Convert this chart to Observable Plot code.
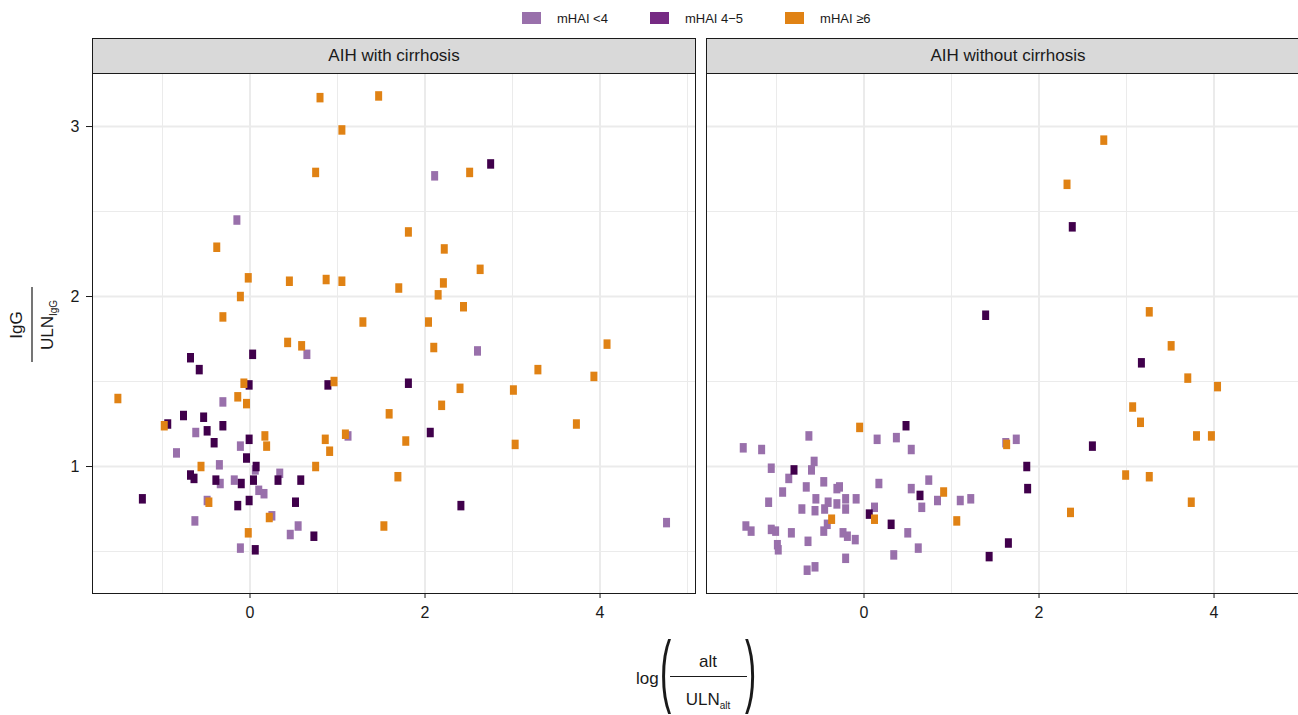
<!DOCTYPE html>
<html>
<head>
<meta charset="utf-8">
<script src="https://cdn.jsdelivr.net/npm/d3@7"></script>
<script src="https://cdn.jsdelivr.net/npm/@observablehq/plot@0.6"></script>
<style>
html, body { margin: 0; padding: 0; background: #fff; overflow: hidden; }
#wrap { position: relative; width: 1298px; height: 715px; overflow: hidden; font-family: "Liberation Sans", Arial, sans-serif; }
#legend { position: absolute; top: 0; left: 522px; height: 36px; display: flex; align-items: center; font-size: 13px; color: #1a1a1a; }
#legend .item { display: flex; align-items: center; margin-right: 42px; }
#legend .sw { width: 19px; height: 12px; margin-right: 16px; }
#chart { position: absolute; top: 36px; left: 0; width: 1309px; }
#chart svg { max-width: none !important; }
#titles { position: absolute; top: 0; left: 0; pointer-events: none; }
</style>
</head>
<body>
<div id="wrap">
  <div id="legend"></div>
  <div id="chart"></div>
  <svg id="titles" width="1298" height="715" font-family="Liberation Sans, Arial, sans-serif" fill="#1a1a1a"></svg>
</div>
<script>
// ---------- data ----------
const panels = ["AIH with cirrhosis", "AIH without cirrhosis"];
const groups = ["mHAI <4", "mHAI 4\u22125", "mHAI \u22656"];
const pointColors = ["#9970ab", "#40004b", "#e08214"];
const legendColors = ["#9970ab", "#762a83", "#e08214"];
const xTicks = [0, 2, 4];
const yTicks = [1, 2, 3];
const xMinor = [-1, 1, 3, 5];
const yMinor = [0.5, 1.5, 2.5];

// AIH with cirrhosis
const cirrLow = [[-0.15,2.45],[-0.31,1.38],[0.65,1.66],[-0.62,1.20],[-0.11,1.12],[1.12,1.18],[-0.84,1.08],[0.06,0.98],[-0.35,1.01],[0.34,0.96],[-0.34,0.90],[-0.18,0.92],[0.10,0.86],[0.16,0.84],[-0.49,0.80],[0.25,0.71],[-0.63,0.68],[0.55,0.65],[0.46,0.60],[-0.11,0.52],[2.11,2.71],[2.60,1.68],[4.76,0.67]];
const cirrMid = [[-0.68,1.64],[0.03,1.66],[-0.58,1.57],[-0.01,1.48],[0.89,1.48],[-0.76,1.30],[-0.94,1.25],[-0.53,1.29],[-0.49,1.21],[-0.31,1.24],[-0.41,1.14],[-0.01,1.16],[-0.04,1.05],[0.07,1.00],[-0.68,0.95],[-0.64,0.93],[-0.39,0.92],[-0.10,0.90],[0.04,0.92],[0.32,0.92],[0.58,0.92],[-1.23,0.81],[0.52,0.79],[-0.01,0.80],[-0.14,0.77],[0.73,0.59],[0.06,0.51],[2.75,2.78],[1.81,1.49],[2.06,1.20],[2.41,0.77]];
const cirrHigh = [[0.80,3.17],[1.47,3.18],[1.05,2.98],[0.75,2.73],[-0.38,2.29],[-0.02,2.11],[0.45,2.09],[0.87,2.10],[1.05,2.09],[1.70,2.05],[-0.11,2.00],[-0.31,1.88],[1.29,1.85],[0.43,1.73],[0.59,1.71],[-0.07,1.49],[0.96,1.50],[-1.51,1.40],[-0.14,1.41],[-0.04,1.37],[1.59,1.31],[-0.98,1.24],[0.17,1.18],[0.19,1.12],[0.86,1.16],[1.09,1.19],[0.91,1.09],[-0.56,1.00],[0.75,1.00],[1.69,0.94],[-0.47,0.79],[0.22,0.70],[-0.02,0.61],[1.53,0.65],[2.51,2.73],[1.81,2.38],[2.22,2.28],[2.63,2.16],[2.21,2.08],[2.15,2.01],[2.44,1.94],[2.04,1.85],[2.10,1.70],[4.08,1.72],[3.29,1.57],[3.93,1.53],[2.40,1.46],[3.01,1.45],[2.19,1.36],[3.73,1.25],[1.78,1.15],[3.03,1.13]];

// AIH without cirrhosis
const noCirrLow = [[-0.63,1.18],[-1.38,1.11],[-1.17,1.10],[0.15,1.16],[0.37,1.17],[0.54,1.10],[-1.06,0.99],[-0.57,1.03],[-0.60,0.98],[-0.86,0.93],[-0.46,0.91],[-0.66,0.88],[-0.31,0.87],[-0.28,0.88],[0.17,0.90],[0.74,0.92],[0.54,0.87],[1.10,0.80],[1.22,0.81],[0.84,0.80],[-0.93,0.85],[-0.55,0.81],[-0.41,0.79],[-0.31,0.78],[-0.21,0.81],[-0.09,0.81],[-1.09,0.79],[-0.71,0.75],[-0.56,0.74],[-0.45,0.75],[-0.21,0.75],[0.12,0.76],[0.66,0.76],[-0.42,0.66],[-1.35,0.65],[-1.29,0.62],[-1.06,0.63],[-1.01,0.62],[-0.83,0.61],[-0.46,0.62],[-0.24,0.61],[-0.19,0.59],[-0.10,0.57],[0.50,0.61],[-0.64,0.56],[-0.99,0.54],[-0.98,0.51],[0.62,0.52],[0.34,0.48],[-0.21,0.46],[-0.65,0.39],[-0.56,0.41],[1.62,1.14],[1.74,1.16]];
const noCirrMid = [[0.48,1.24],[-0.80,0.98],[0.64,0.83],[0.06,0.72],[0.31,0.66],[1.43,0.47],[1.39,1.89],[2.38,2.41],[3.17,1.61],[2.61,1.12],[1.86,1.00],[1.87,0.87],[1.65,0.55]];
const noCirrHigh = [[-0.05,1.23],[0.91,0.85],[0.12,0.69],[-0.37,0.69],[1.06,0.68],[2.74,2.92],[2.32,2.66],[3.26,1.91],[3.51,1.71],[3.70,1.52],[4.04,1.47],[3.07,1.35],[3.16,1.26],[3.80,1.18],[3.97,1.18],[1.63,1.13],[2.99,0.95],[3.26,0.94],[3.74,0.79],[2.36,0.73]];

// ---------- build table ----------
const series = [
  [panels[0], groups[0], cirrLow], [panels[0], groups[1], cirrMid], [panels[0], groups[2], cirrHigh],
  [panels[1], groups[0], noCirrLow], [panels[1], groups[1], noCirrMid], [panels[1], groups[2], noCirrHigh]
];
const data = series.flatMap(([panel, group, pts]) => pts.map(([x, y]) => ({panel, group, x, y})));

// rectangular (taller than wide) marker
const tallSquare = { draw(ctx) { ctx.rect(-3.5, -4.75, 7, 9.5); } };

const PANEL_H = 520;
const chart = Plot.plot({
  width: 1309,
  height: 600,
  marginTop: 37,
  marginBottom: 43,
  marginLeft: 92,
  marginRight: 0,
  style: { fontFamily: "Liberation Sans, Arial, sans-serif", background: "transparent", color: "#1a1a1a", maxWidth: "none" },
  x: { domain: [-1.8, 5.091], axis: null },
  y: { domain: [0.253, 3.312], axis: null },
  fx: { domain: panels, axis: null, paddingInner: 0.017915, paddingOuter: 0, round: false },
  color: { domain: groups, range: pointColors },
  marks: [
    Plot.gridX(xMinor, { stroke: "#ebebeb", strokeOpacity: 1, strokeWidth: 1 }),
    Plot.gridY(yMinor, { stroke: "#ebebeb", strokeOpacity: 1, strokeWidth: 1 }),
    Plot.gridX(xTicks, { stroke: "#ebebeb", strokeOpacity: 1, strokeWidth: 2 }),
    Plot.gridY(yTicks, { stroke: "#ebebeb", strokeOpacity: 1, strokeWidth: 2 }),
    Plot.frame({ fill: "#d9d9d9", stroke: "#1a1a1a", strokeWidth: 1, insetTop: -35, insetBottom: PANEL_H }),
    Plot.text(panels, { fx: d => d, text: d => d, frameAnchor: "top", lineAnchor: "middle", dy: -18, fontSize: 17, fill: "#1a1a1a" }),
    Plot.dot(data, { x: "x", y: "y", fx: "panel", fill: "group", symbol: tallSquare, r: 3 }),
    Plot.frame({ stroke: "#1a1a1a", strokeWidth: 1 }),
    Plot.axisX({ ticks: xTicks, tickFormat: d3.format("d"), tickSize: 5, tickPadding: 8, fontSize: 16, color: "#1a1a1a", label: null }),
    Plot.axisY({ ticks: yTicks, tickFormat: d3.format("d"), tickSize: 6, tickPadding: 7, fontSize: 16, color: "#1a1a1a", label: null })
  ]
});
document.getElementById("chart").appendChild(chart);

// ---------- legend ----------
const legend = document.getElementById("legend");
groups.forEach((g, i) => {
  const item = document.createElement("div");
  item.className = "item";
  const sw = document.createElement("span");
  sw.className = "sw";
  sw.style.background = legendColors[i];
  const lab = document.createElement("span");
  lab.textContent = g;
  item.appendChild(sw);
  item.appendChild(lab);
  legend.appendChild(item);
});

// ---------- axis titles (fractions) ----------
const ns = "http://www.w3.org/2000/svg";
const titles = document.getElementById("titles");
function el(tag, attrs, parent, text) {
  const e = document.createElementNS(ns, tag);
  for (const k in attrs) e.setAttribute(k, attrs[k]);
  if (text != null) e.textContent = text;
  parent.appendChild(e);
  return e;
}
// y title: IgG / ULN_IgG rotated
const gy = el("g", { transform: "translate(32,325) rotate(-90)" }, titles);
el("text", { x: 0, y: -10, "text-anchor": "middle", "font-size": 17 }, gy, "IgG");
el("line", { x1: -37, x2: 38, y1: 0, y2: 0, stroke: "#1a1a1a", "stroke-width": 1.2 }, gy);
const dy = el("text", { x: 0, y: 21, "text-anchor": "middle", "font-size": 17 }, gy, "ULN");
el("tspan", { "font-size": 10, dy: 4 }, dy, "IgG");

// x title: log ( alt / ULN_alt )
const gx = el("g", {}, titles);
el("text", { x: 636, y: 684, "font-size": 17 }, gx, "log");
el("text", { x: 0, y: 0, "font-size": 80, transform: "translate(660,697) scale(0.42,1)" }, gx, "(");
el("text", { x: 708, y: 667, "text-anchor": "middle", "font-size": 17 }, gx, "alt");
el("line", { x1: 670, x2: 747, y1: 676.5, y2: 676.5, stroke: "#1a1a1a", "stroke-width": 1.2 }, gx);
const dx = el("text", { x: 708, y: 705, "text-anchor": "middle", "font-size": 17 }, gx, "ULN");
el("tspan", { "font-size": 10, dy: 4 }, dx, "alt");
el("text", { x: 0, y: 0, "font-size": 80, transform: "translate(745,697) scale(0.42,1)" }, gx, ")");
</script>
</body>
</html>
